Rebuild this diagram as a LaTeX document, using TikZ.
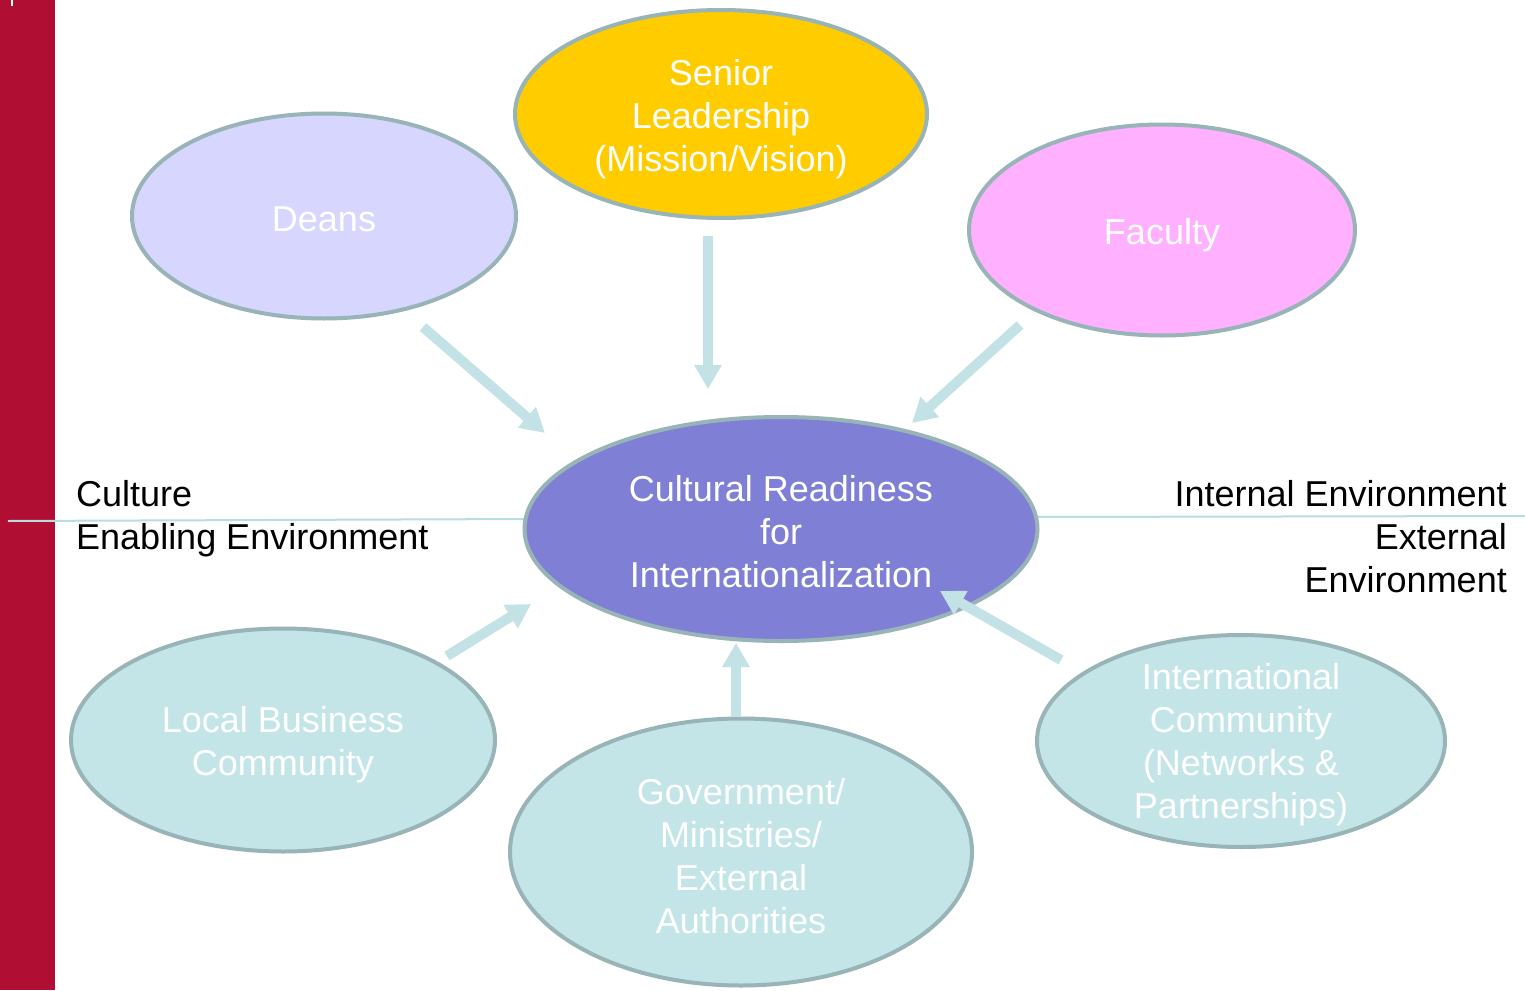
\documentclass[tikz,border=0pt]{standalone}
\usepackage{fontspec}
\setmainfont{Liberation Sans}
\usetikzlibrary{shapes.geometric,arrows.meta}
\definecolor{barred}{HTML}{B00E33}
\definecolor{rim}{HTML}{98B4B6}
\definecolor{gold}{HTML}{FFCC00}
\definecolor{lav}{HTML}{D6D6FF}
\definecolor{pink}{HTML}{FFB0FF}
\definecolor{core}{HTML}{7F7FD6}
\definecolor{aqua}{HTML}{C4E5E8}
\definecolor{arrowc}{HTML}{C2E2E5}
\definecolor{divline}{HTML}{B7DDE0}
\tikzset{
  bubble/.style={ellipse, draw=rim, line width=4pt, inner sep=0pt},
  btext/.style={text=white, align=center, inner sep=0pt, font=\fontsize{36}{43}\selectfont},
  fatarrow/.style={draw=arrowc, line width=10pt,
    -{Triangle[width=26pt,length=24pt]}, fill=arrowc},
  sidetext/.style={font=\fontsize{36}{43}\selectfont, text=black, inner sep=0pt}
}
\begin{document}
\begin{tikzpicture}[x=1pt,y=-1pt]
\useasboundingbox (0,0) rectangle (1525,990);
\fill[white] (0,0) rectangle (1525,990);
\fill[barred] (0,0) rectangle (55,990);
\draw[white, line width=1.5pt] (12,0) -- (12,6);

% divider lines
\coordinate (lineL) at (8,521);
\coordinate (lineLe) at (530,519);
\coordinate (lineRs) at (1034,517);
\coordinate (lineR) at (1525,516);
\draw[divline, line width=2pt] (lineL) -- (lineLe);
\draw[divline, line width=2pt] (lineRs) -- (lineR);

\node[bubble, fill=core, minimum width=513pt, minimum height=224pt] (core) at (781,529) {};
\node[btext, yshift=-3pt] (coret) at (core) {Cultural Readiness\\for\\Internationalization};

\node[bubble, fill=gold, minimum width=412pt, minimum height=208pt] (senior) at (721,114) {};
\node[btext, yshift=-5pt] (seniort) at (senior) {Senior\\Leadership\\(Mission/Vision)};
\node[bubble, fill=lav, minimum width=384pt, minimum height=205pt] (deans) at (324,216) {};
\node[btext, yshift=-3pt] (deanst) at (deans) {Deans};
\node[bubble, fill=pink, minimum width=386pt, minimum height=211pt] (faculty) at (1162,230) {};
\node[btext, yshift=-5pt] (facultyt) at (faculty) {Faculty};
\node[bubble, fill=aqua, minimum width=424pt, minimum height=223pt] (local) at (283,740) {};
\node[btext, yshift=-5pt] (localt) at (local) {Local Business\\Community};
\node[bubble, fill=aqua, minimum width=462pt, minimum height=267pt] (gov) at (741,852) {};
\node[btext, yshift=-4pt] (govt) at (gov) {Government/\\Ministries/\\External\\Authorities};
\node[bubble, fill=aqua, minimum width=408pt, minimum height=212pt] (intl) at (1241,741) {};
\node[btext, yshift=-4pt] (intlt) at (intl) {International\\Community\\(Networks \&\\Partnerships)};

\node[sidetext, anchor=north west, align=left] (culture) at (76,480)
  {Culture\\Enabling Environment};
\node[sidetext, anchor=north east, align=right] (env) at (1507,480)
  {Internal Environment\\External\\Environment};

% arrow endpoints
\coordinate (dS) at (423,327);
\coordinate (dE) at (545,433);
\coordinate (sS) at (708,236);
\coordinate (sE) at (708,389);
\coordinate (fS) at (1020,325);
\coordinate (fE) at (912,423);
\coordinate (lS) at (447,656);
\coordinate (lE) at (531,604);
\coordinate (gS) at (736,717);
\coordinate (gE) at (736,643);
\coordinate (iS) at (1061,660);
\coordinate (iE) at (940,591);
\draw[fatarrow] (dS) -- (dE);
\draw[fatarrow] (sS) -- (sE);
\draw[fatarrow] (fS) -- (fE);
\draw[fatarrow] (lS) -- (lE);
\draw[fatarrow] (gS) -- (gE);
\draw[fatarrow] (iS) -- (iE);
\end{tikzpicture}
\end{document}
